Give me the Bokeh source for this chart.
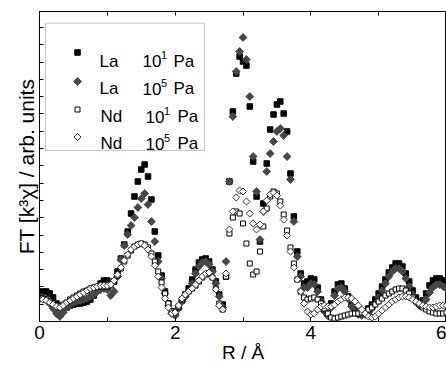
import numpy as np
from bokeh.plotting import figure
from bokeh.models import Range1d, LinearAxis, FixedTicker, Label, BoxAnnotation
from bokeh.embed import file_html
from bokeh.resources import INLINE

# R grid (Angstrom), step 0.05
R = np.round(np.arange(121) * 0.05, 2)

# FT magnitudes (arb. units)
la_1e1 = [29, 30, 30, 28, 24, 18, 13, 12, 14, 16, 17, 18, 18, 19, 20, 22, 26, 32, 38, 41,
          41, 38, 40, 50, 63, 77, 90, 108, 125, 140, 152, 157, 145, 122, 90, 66, 46, 30, 18, 10,
          8, 14, 21, 27, 33, 42, 52, 59, 62, 63, 60, 52, 40, 27, 17, 45, 140, 210, 248, 265,
          260, 256, 215, 160, 125, 80, 118, 158, 192, 207, 217, 220, 208, 190, 148, 105, 70, 48, 38, 40,
          43, 42, 34, 22, 12, 8, 18, 30, 37, 38, 33, 25, 17, 11, 8, 8, 10, 13, 17, 22,
          28, 35, 42, 49, 54, 58, 58, 55, 48, 40, 31, 24, 19, 21, 28, 36, 41, 43, 43, 41,
          39]
la_1e5 = [24, 24, 22, 18, 13, 8, 5, 9, 14, 17, 19, 20, 21, 22, 23, 25, 27, 30, 32, 33,
          32, 26, 30, 45, 62, 76, 87, 96, 104, 114, 123, 128, 117, 100, 80, 60, 43, 28, 16, 8,
          6, 13, 20, 25, 30, 38, 48, 55, 59, 60, 57, 50, 38, 25, 14, 60, 140, 205, 250, 270,
          284, 262, 225, 165, 130, 82, 110, 150, 168, 180, 190, 193, 186, 165, 142, 100, 65, 45, 34, 34,
          38, 37, 30, 20, 10, 6, 14, 26, 33, 34, 30, 23, 15, 10, 7, 6, 7, 9, 13, 18,
          24, 31, 38, 45, 50, 53, 53, 50, 43, 35, 27, 20, 16, 17, 22, 29, 34, 37, 37, 35,
          33]
nd_1e1 = [23, 23, 22, 20, 18, 16, 15, 17, 19, 22, 24, 26, 28, 30, 31, 33, 34, 35, 35, 35,
          35, 36, 40, 46, 53, 60, 66, 71, 75, 77, 78, 77, 74, 68, 60, 50, 39, 28, 18, 10,
          9, 15, 22, 27, 30, 33, 36, 40, 44, 47, 48, 44, 33, 18, 12, 45, 88, 104, 110, 108,
          98, 78, 58, 47, 50, 70, 95, 113, 125, 130, 128, 120, 107, 91, 74, 58, 42, 30, 24, 22,
          23, 24, 22, 18, 13, 8, 4, 3, 4, 5, 6, 7, 8, 8, 8, 9, 10, 12, 14, 17,
          20, 23, 26, 28, 30, 32, 33, 33, 31, 28, 24, 20, 17, 14, 12, 10, 9, 8, 8, 8,
          9]
nd_1e5 = [22, 22, 21, 19, 17, 15, 14, 16, 19, 21, 23, 25, 27, 29, 31, 33, 34, 35, 36, 36,
          36, 37, 41, 47, 54, 61, 67, 72, 75, 77, 78, 76, 72, 65, 56, 45, 34, 23, 14, 8,
          9, 16, 23, 27, 30, 33, 37, 41, 45, 48, 49, 44, 32, 16, 12, 48, 92, 110, 124, 131,
          130, 120, 108, 98, 92, 97, 110, 121, 127, 129, 126, 116, 102, 86, 70, 54, 42, 30, 18, 10,
          7, 8, 12, 15, 16, 15, 15, 17, 20, 22, 24, 24, 23, 20, 16, 12, 8, 5, 4, 5,
          8, 11, 14, 17, 20, 22, 24, 25, 25, 24, 22, 20, 18, 16, 15, 14, 14, 15, 16, 16,
          16]

x_major = [0, 2, 4, 6]
x_minor = [1, 3, 5]
x_top = [0, 1, 2, 3, 4, 5, 6]
y_ticks = [17.3 * k for k in range(1, 18)]

series = [
    ("La", "1", la_1e1, 0.0, "black", "black", 5.5),
    ("La", "5", la_1e5, np.pi / 4, "#474747", "#474747", 5.5),
    ("Nd", "1", nd_1e1, 0.0, "white", "black", 5.0),
    ("Nd", "5", nd_1e5, np.pi / 4, "white", "#333333", 5.0),
]

FL, FR, FT, FB = 39, 446, 11, 321
X0, X1, Y0, Y1 = 0, 6, 0, 310

def sx(px):
    return X0 + (px - FL) * (X1 - X0) / (FR - FL)

def sy(py):
    return Y0 + (FB - py) * (Y1 - Y0) / (FB - FT)

p = figure(width=446, height=367, x_range=Range1d(X0, X1), y_range=Range1d(Y0, Y1),
           output_backend="svg", toolbar_location=None,
           x_axis_location=None, y_axis_location=None,
           min_border_left=FL, min_border_right=0, min_border_top=FT, min_border_bottom=367 - FB)
p.grid.visible = False
p.outline_line_color = "black"
p.outline_line_width = 1
p.background_fill_color = "white"
p.border_fill_color = "white"

FONT = "Liberation Sans"

def style_axis(ax, labels=False):
    ax.axis_line_color = "black"
    ax.axis_line_width = 1
    ax.major_tick_in = 4
    ax.major_tick_out = 0
    ax.minor_tick_in = 4
    ax.minor_tick_out = 0
    ax.major_tick_line_color = "black"
    ax.minor_tick_line_color = "black"
    if labels:
        ax.major_label_text_font = FONT
        ax.major_label_text_font_size = "19px"
        ax.major_label_text_color = "black"
        ax.major_label_standoff = 4
    else:
        ax.major_label_text_font_size = "0px"
        ax.major_label_text_color = None
        ax.major_label_standoff = 0

bottom = LinearAxis(ticker=FixedTicker(ticks=x_major, minor_ticks=x_minor))
style_axis(bottom, labels=True)
bottom.axis_label = "R / Å"
bottom.axis_label_text_font = FONT
bottom.axis_label_text_font_size = "19px"
bottom.axis_label_text_font_style = "normal"
bottom.axis_label_text_color = "black"
bottom.axis_label_standoff = 0
p.add_layout(bottom, "below")

top = LinearAxis(ticker=FixedTicker(ticks=x_top, minor_ticks=[]))
style_axis(top)
p.add_layout(top, "above")

left = LinearAxis(ticker=FixedTicker(ticks=y_ticks, minor_ticks=[]))
style_axis(left)
left.axis_label = "FT [k³χ] / arb. units"
left.axis_label_text_font = FONT
left.axis_label_text_font_size = "21px"
left.axis_label_text_font_style = "normal"
left.axis_label_text_color = "black"
left.axis_label_standoff = 2
p.add_layout(left, "left")

for name, ex, vals, ang, fc, lc, sz in series:
    p.scatter(R, vals, marker="square", angle=ang, size=sz,
              fill_color=fc, line_color=lc, line_width=1)

# legend box
box = BoxAnnotation(left=sx(45), right=sx(204), top=sy(22.7), bottom=sy(150),
                    fill_color="white", fill_alpha=1.0, line_color="#4a4a4a", line_width=1,
                    level="annotation")
p.add_layout(box)

row_mark_py = [52, 81, 109, 136.5]
row_base_py = [60.7, 88.3, 116, 143.3]
for i, (name, ex, vals, ang, fc, lc, sz) in enumerate(series):
    r = p.scatter([sx(77)], [sy(row_mark_py[i])], marker="square", angle=ang, size=sz,
                  fill_color=fc, line_color=lc, line_width=1)
    r.level = "overlay"
    if name == "La":
        xs = (99, 142, 160.5, 173)
    else:
        xs = (100, 145, 163.5, 177)
    b = sy(row_base_py[i])
    for txt, px, size, dy in ((name, xs[0], "17px", 0), ("10", xs[1], "17px", 0),
                              (ex, xs[2], "11px", 6), ("Pa", xs[3], "17px", 0)):
        p.add_layout(Label(x=sx(px), y=b + dy, text=txt, text_font=FONT,
                           text_font_size=size, text_color="black",
                           text_align="left", text_baseline="alphabetic", level="overlay"))

open("out.html", "w").write(file_html(p, INLINE))
